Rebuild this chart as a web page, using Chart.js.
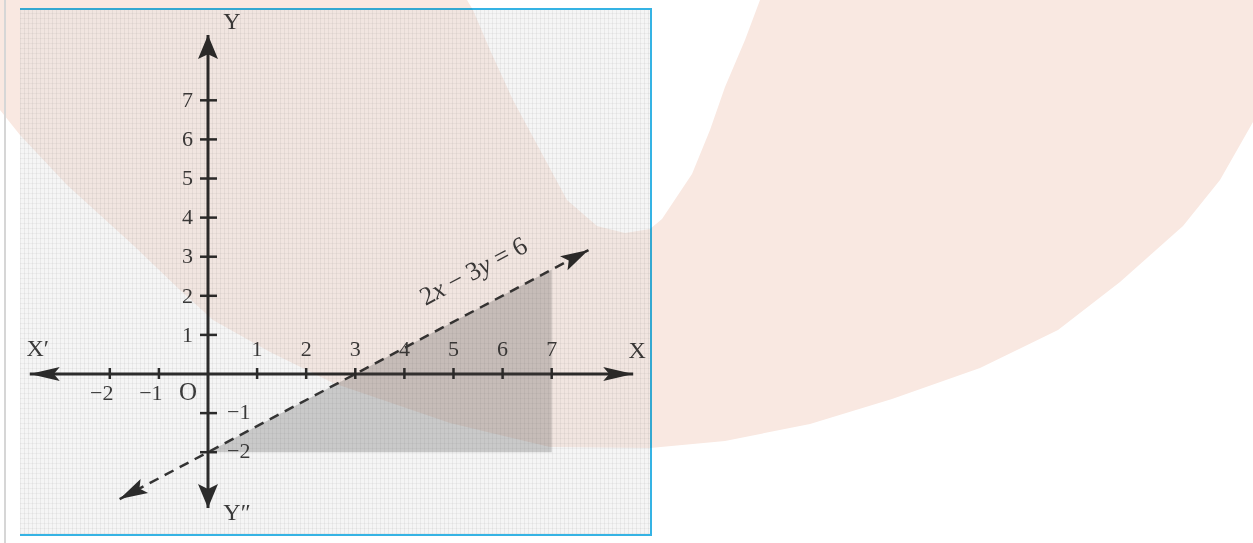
<!DOCTYPE html>
<html>
<head>
<meta charset="utf-8">
<script src="https://cdn.jsdelivr.net/npm/chart.js@4.4.1/dist/chart.umd.min.js"></script>
<style>
  html, body { margin: 0; padding: 0; background: #fff; width: 1253px; height: 543px; overflow: hidden; position: relative; }
  #rule { position: absolute; left: 4px; top: 0; width: 2px; height: 543px; background: #d6d6d6; }
  #frame {
    position: absolute; left: 20px; top: 8px; width: 630px; height: 524px;
    border-top: 2px solid #35b3e4; border-right: 2px solid #35b3e4; border-bottom: 2px solid #35b3e4;
    background-color: #f5f5f5;
    background-image:
      repeating-linear-gradient(90deg, rgba(110,110,110,.09) 0 1px, transparent 1px 4px),
      repeating-linear-gradient(0deg, rgba(110,110,110,.07) 0 1px, transparent 1px 5px);
  }
  #wrap { position: absolute; left: 20px; top: 8px; width: 632px; height: 526px; }
  #graph { filter: blur(0.35px); }
  .wm { position: absolute; left: 0; top: 0; pointer-events: none; }
  #wmTop { mix-blend-mode: multiply; opacity: 0.7; }
</style>
</head>
<body>
<svg class="wm" width="1253" height="543" viewBox="0 0 1253 543">
  <path id="wmShape" fill="#f9e8e1" d="M0,0 L467,0 L473,10 L490,50 L513,100 L540,150 L567,200 L597,226 L625,233 L650,229 L662,219 L692,174 L710,130 L725,87 L745,40 L760,0 L1253,0 L1253,122 L1220,180 L1183,226 L1120,282 L1058,330 L980,368 L892,399 L810,424 L725,441 L650,448 L550,447 L450,423 L333,383 L270,352 L213,320 L180,290 L133,245 L67,185 L20,135 L0,110 Z"/>
</svg>
<div id="rule"></div>
<div id="frame"></div>
<div id="wrap"><canvas id="graph" width="632" height="526"></canvas></div>
<svg id="wmTop" class="wm" width="1253" height="543" viewBox="0 0 1253 543">
  <defs><clipPath id="frameClip"><rect x="20" y="8" width="632" height="526"/></clipPath></defs>
  <use href="#wmShape" clip-path="url(#frameClip)"/>
</svg>

<script>
// axis ticks (unit marks)
const xTicks = [-2, -1, 1, 2, 3, 4, 5, 6, 7];
const yTicks = [-2, -1, 1, 2, 3, 4, 5, 6, 7];

// axis ends (arrow tips)
const xAxisEnds = [-3.63, 8.66];
const yAxisEnds = [-3.43, 8.67];

// the line 2x - 3y = 6, read at its two arrow tips
const lineX = [-1.8, 7.75];
const lineY = [-3.2, 3.17];
const lineLabel = ['2', 'x', ' − 3', 'y', ' = 6'];

// shaded region corners
const regionX = [0, 7, 7, 0];
const regionY = [-2, -2, 2.67, -2];

const ink = '#2b2b2b';
const serif = '"Liberation Serif", "DejaVu Serif", serif';

function pts(xs, ys) {
  return xs.map((v, i) => ({ x: v, y: ys[i] }));
}

function arrowHead(ctx, from, tip, len, half) {
  const a = Math.atan2(tip.y - from.y, tip.x - from.x);
  const c = Math.cos(a), s = Math.sin(a);
  const bx = tip.x - len * c, by = tip.y - len * s;
  ctx.beginPath();
  ctx.moveTo(tip.x, tip.y);
  ctx.lineTo(bx + half * s, by - half * c);
  ctx.lineTo(tip.x - len * 0.8 * c, tip.y - len * 0.8 * s);
  ctx.lineTo(bx - half * s, by + half * c);
  ctx.closePath();
  ctx.fill();
}

const decor = {
  id: 'decor',
  afterDatasetsDraw(chart) {
    const { ctx, scales: { x, y } } = chart;
    const x0 = x.getPixelForValue(0), y0 = y.getPixelForValue(0);
    ctx.save();
    ctx.fillStyle = ink;
    ctx.strokeStyle = ink;

    // arrow heads on axes and on the line
    chart.data.datasets.forEach((ds, i) => {
      if (!ds.arrow) return;
      const p = chart.getDatasetMeta(i).data;
      arrowHead(ctx, p[1], p[0], ds.arrow[0], ds.arrow[1]);
      arrowHead(ctx, p[p.length - 2], p[p.length - 1], ds.arrow[0], ds.arrow[1]);
    });

    // tick marks
    ctx.lineWidth = 2.5;
    xTicks.forEach(v => {
      const px = x.getPixelForValue(v);
      ctx.beginPath(); ctx.moveTo(px, y0 - 6); ctx.lineTo(px, y0 + 5); ctx.stroke();
    });
    yTicks.forEach(v => {
      const py = y.getPixelForValue(v);
      ctx.beginPath(); ctx.moveTo(x0 - 8, py); ctx.lineTo(x0 + 9, py); ctx.stroke();
    });

    // tick labels
    ctx.fillStyle = '#3a3a3a';
    ctx.font = '22px ' + serif;
    ctx.textBaseline = 'middle';
    xTicks.forEach(v => {
      const px = x.getPixelForValue(v);
      ctx.textAlign = 'center';
      if (v > 0) {
        ctx.fillText(String(v), px, y0 - 24);
      } else {
        ctx.fillText('−' + Math.abs(v), px - 8, y0 + 20);
      }
    });
    ctx.font = '25px ' + serif;
    ctx.fillText('O', x0 - 20, y0 + 19);
    ctx.font = '22px ' + serif;
    yTicks.forEach(v => {
      const py = y.getPixelForValue(v);
      if (v > 0) {
        ctx.textAlign = 'right';
        ctx.fillText(String(v), x0 - 15, py + 1);
      } else {
        ctx.textAlign = 'left';
        ctx.fillText('−' + Math.abs(v), x0 + 19, py);
      }
    });

    // axis names
    ctx.font = '24px ' + serif;
    ctx.textAlign = 'center';
    ctx.fillText('X′', x.getPixelForValue(xAxisEnds[0]) + 8, y0 - 24);
    ctx.fillText('X', x.getPixelForValue(xAxisEnds[1]) + 4, y0 - 22);
    ctx.fillText('Y', x0 + 24, y.getPixelForValue(yAxisEnds[1]) - 12);
    ctx.fillText('Y″', x0 + 29, y.getPixelForValue(yAxisEnds[0]) + 6);

    // line label, set along the line
    const p0 = { x: x.getPixelForValue(lineX[0]), y: y.getPixelForValue(lineY[0]) };
    const p1 = { x: x.getPixelForValue(lineX[1]), y: y.getPixelForValue(lineY[1]) };
    const a = Math.atan2(p1.y - p0.y, p1.x - p0.x);
    const t = 0.79;
    const cx = p0.x + t * (p1.x - p0.x) + 34 * Math.sin(a);
    const cy = p0.y + t * (p1.y - p0.y) - 34 * Math.cos(a);
    ctx.translate(cx, cy);
    ctx.rotate(a);
    const fonts = lineLabel.map((s, i) => (i % 2 === 1 ? 'italic ' : '') + '26px ' + serif);
    const widths = lineLabel.map((s, i) => { ctx.font = fonts[i]; return ctx.measureText(s).width; });
    let cur = -widths.reduce((m, w) => m + w, 0) / 2;
    ctx.textAlign = 'left';
    lineLabel.forEach((s, i) => {
      ctx.font = fonts[i];
      ctx.fillText(s, cur, 0);
      cur += widths[i];
    });
    ctx.restore();
  }
};

new Chart(document.getElementById('graph').getContext('2d'), {
  type: 'scatter',
  data: {
    datasets: [
      {
        data: pts(regionX, regionY),
        showLine: true,
        fill: 'shape',
        backgroundColor: 'rgba(70,70,70,0.25)',
        borderWidth: 0,
        pointRadius: 0
      },
      {
        data: pts(xAxisEnds, [0, 0]),
        showLine: true,
        borderColor: ink,
        borderWidth: 3,
        pointRadius: 0,
        arrow: [30, 7]
      },
      {
        data: pts([0, 0], yAxisEnds),
        showLine: true,
        borderColor: ink,
        borderWidth: 3,
        pointRadius: 0,
        arrow: [24, 10]
      },
      {
        data: pts(lineX, lineY),
        showLine: true,
        borderColor: '#333',
        borderWidth: 2.5,
        borderDash: [10, 7],
        pointRadius: 0,
        arrow: [28, 8]
      }
    ]
  },
  options: {
    responsive: false,
    devicePixelRatio: 1,
    animation: false,
    layout: { padding: 0 },
    plugins: { legend: { display: false }, tooltip: { enabled: false } },
    scales: {
      x: { type: 'linear', min: -3.829, max: 9.043, display: false },
      y: { type: 'linear', min: -4.092, max: 9.361, display: false }
    }
  },
  plugins: [decor]
});
</script>
</body>
</html>
